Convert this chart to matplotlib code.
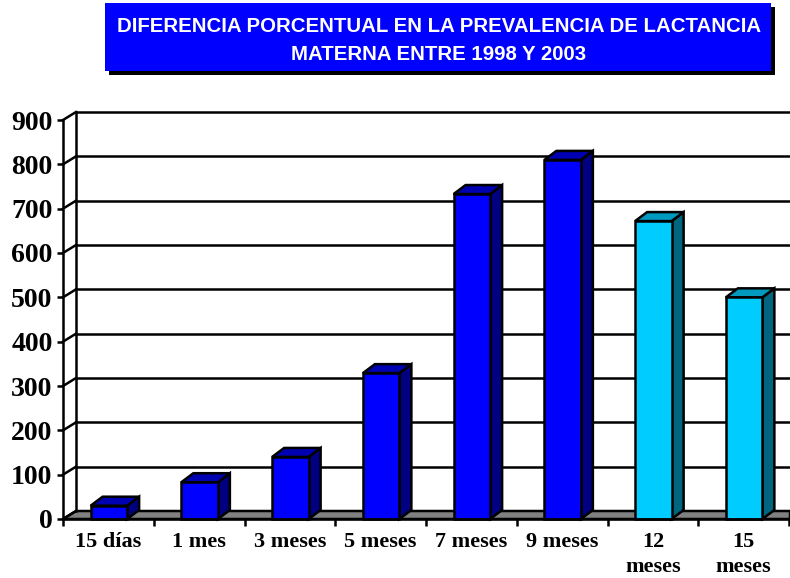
import matplotlib
matplotlib.use("Agg")
import matplotlib.pyplot as plt
from matplotlib.patches import Polygon, Rectangle

categories = ["15 días", "1 mes", "3 meses", "5 meses", "7 meses", "9 meses", "12\nmeses", "15\nmeses"]
values = [30, 83, 140, 329, 733, 810, 672, 500]
highlight = [False, False, False, False, False, False, True, True]
y_ticks = [0, 100, 200, 300, 400, 500, 600, 700, 800, 900]
title_text = "DIFERENCIA PORCENTUAL EN LA PREVALENCIA DE LACTANCIA\nMATERNA ENTRE 1998 Y 2003"

W, H = 790, 578
fig = plt.figure(figsize=(W / 100, H / 100), dpi=100, facecolor="white")
L, R, B, T = 63, 789, 519, 120
ax = fig.add_axes([L / W, 1 - B / H, (R - L) / W, (B - T) / H])
ax.set_xlim(0, len(categories))
ax.set_ylim(0, 900)

pxx = len(categories) / (R - L)   # data units per pixel
pxy = 900 / (B - T)
wall_dx, wall_dy = 13 * pxx, 8 * pxy
bar_dx, bar_dy = 12 * pxx, 9 * pxy
bar_w = 36.5 * pxx
lw = 1.8
xmax = len(categories) + 1 * pxx

# floor
ax.add_patch(Polygon([(0, 0), (wall_dx, wall_dy), (xmax, wall_dy), (xmax, 0)],
                     closed=True, fc="#808080", ec="black", lw=lw, clip_on=False, zorder=1))
# back wall and grid
ax.plot([wall_dx, wall_dx], [wall_dy, 900 + wall_dy], color="black", lw=lw, clip_on=False, zorder=1.5)
for t in y_ticks:
    ax.plot([0, wall_dx], [t, t + wall_dy], color="black", lw=lw, clip_on=False, zorder=1.5)
    if t > 0:
        ax.plot([wall_dx, xmax], [t + wall_dy, t + wall_dy], color="black", lw=lw, clip_on=False, zorder=1.5)

# bars
for i, (v, hi) in enumerate(zip(values, highlight)):
    front, top, side = ("#00CCFF", "#0099BF", "#006680") if hi else ("#0000FF", "#0000B3", "#000080")
    x0 = i + 0.5 - bar_w / 2 + 0.5 * pxx
    x1 = x0 + bar_w
    ax.add_patch(Polygon([(x1, 0), (x1 + bar_dx, bar_dy), (x1 + bar_dx, v + bar_dy), (x1, v)],
                         closed=True, fc=side, ec="black", lw=lw, clip_on=False, zorder=3))
    ax.add_patch(Polygon([(x0, v), (x0 + bar_dx, v + bar_dy), (x1 + bar_dx, v + bar_dy), (x1, v)],
                         closed=True, fc=top, ec="black", lw=lw, clip_on=False, zorder=3))
    ax.add_patch(Rectangle((x0, 0), bar_w, v, fc=front, ec="black", lw=lw, clip_on=False, zorder=4))

# axes
for s in ("top", "right"):
    ax.spines[s].set_visible(False)
for s in ("left", "bottom"):
    ax.spines[s].set_linewidth(lw)
    ax.spines[s].set_zorder(5)
ax.set_yticks(y_ticks)
ax.set_yticklabels([str(t) for t in y_ticks], fontfamily="Liberation Serif", fontweight="bold", fontsize=20)
ax.tick_params(axis="y", length=4.5, width=lw, pad=3)
ax.set_xticks(range(len(categories) + 1))
ax.set_xticklabels([])
ax.tick_params(axis="x", which="major", length=5, width=lw)
ax.set_xticks([i + 0.5 for i in range(len(categories))], minor=True)
ax.set_xticklabels(categories, minor=True, fontfamily="Liberation Serif", fontweight="bold",
                   fontsize=16, linespacing=1.3, va="top")
ax.tick_params(axis="x", which="minor", length=0, pad=9.5)

# title box
bx0, bx1, by0, by1 = 105, 771, 3, 71
fig.patches.append(Rectangle((bx0 / W + 4 / W, 1 - (by1 + 4) / H), (bx1 - bx0) / W, (by1 - by0) / H,
                             transform=fig.transFigure, fc="black", ec="none", zorder=1))
fig.patches.append(Rectangle((bx0 / W, 1 - by1 / H), (bx1 - bx0) / W, (by1 - by0) / H,
                             transform=fig.transFigure, fc="#0000FF", ec="none", zorder=2))
fig.text(439 / W, 1 - 40.5 / H, title_text, ha="center", va="center", color="white",
         fontfamily="Liberation Sans", fontweight="bold", fontsize=14.7, linespacing=1.58, zorder=3)

fig.savefig("out.png", dpi=100)
